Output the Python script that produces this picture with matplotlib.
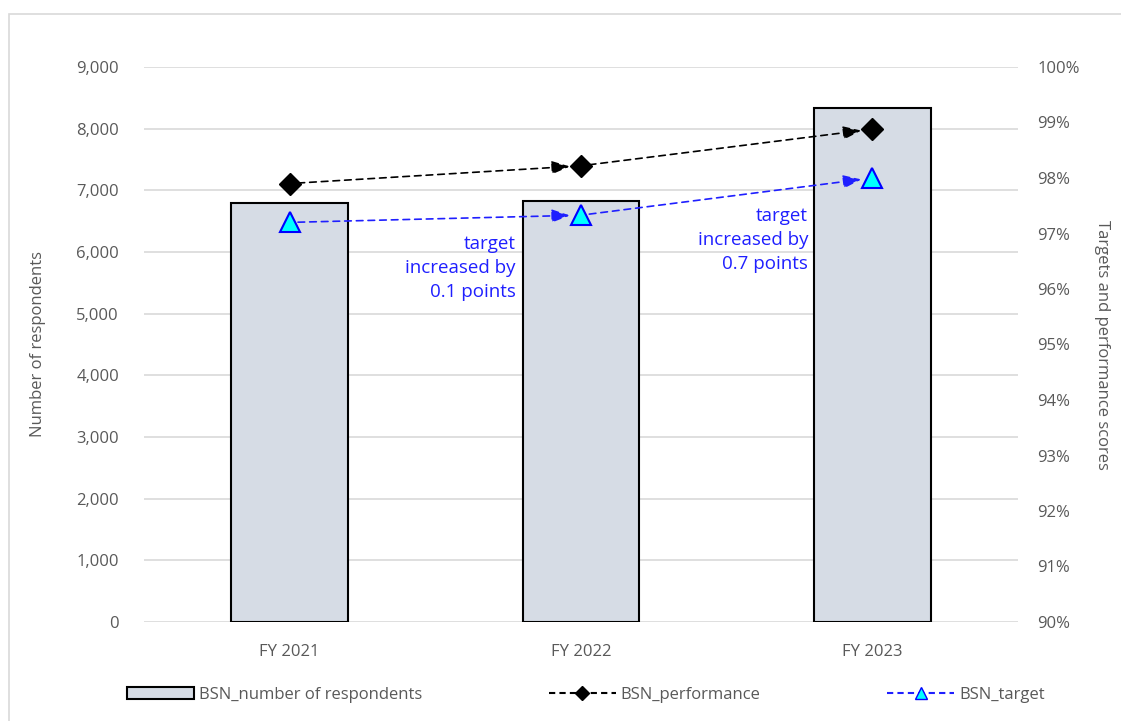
import matplotlib.pyplot as plt
from matplotlib.patches import Rectangle
from matplotlib.lines import Line2D
from matplotlib.ticker import FuncFormatter

years = ['FY 2021', 'FY 2022', 'FY 2023']
respondents = [6800, 6830, 8330]
performance = [97.9, 98.22, 98.88]
target = [97.2, 97.33, 98.0]
notes = ['target\nincreased by\n0.1 points', 'target\nincreased by\n0.7 points']

plt.rcParams['font.family'] = ['Open Sans', 'DejaVu Sans']
gray = '#595959'

W, H = 1121, 721
fig = plt.figure(figsize=(W / 100, H / 100), dpi=100)
ax = fig.add_axes([144 / W, 1 - 622 / H, (1018 - 144) / W, (622 - 67) / H])
ax2 = ax.twinx()

# chart border
fig.patches.append(Rectangle((9 / W, -0.01), 1.0, 1 - 14 / H + 0.01, transform=fig.transFigure,
                             fill=False, edgecolor='#D9D9D9', linewidth=1.2))

x = list(range(len(years)))
ax.bar(x, respondents, width=0.4, color='#D6DCE5', edgecolor='black', linewidth=1.5, zorder=2)
ax.set_ylim(0, 9000)
ax.set_xlim(-0.5, 2.5)
ax.set_yticks(range(0, 9001, 1000))
ax.yaxis.set_major_formatter(FuncFormatter(lambda v, p: f'{int(v):,}'))
ax.grid(axis='y', color='#D9D9D9', linewidth=1.2, zorder=0)
ax.set_axisbelow(True)
ax.set_xticks(x)
ax.set_xticklabels(years)
ax.set_ylabel('Number of respondents', fontsize=12, color=gray, labelpad=22)

ax2.set_ylim(90, 100)
ax2.set_yticks(range(90, 101))
ax2.yaxis.set_major_formatter(FuncFormatter(lambda v, p: f'{int(v)}%'))
ax2.set_ylabel('Targets and performance scores', fontsize=12, color=gray, rotation=270, labelpad=22)

for a in (ax, ax2):
    for s in a.spines.values():
        s.set_visible(False)
    a.tick_params(length=0, labelsize=12, labelcolor=gray)
ax.tick_params(axis='y', pad=18)
ax.tick_params(axis='x', pad=16)
ax2.tick_params(axis='y', pad=14)

# dashed lines with arrow heads between consecutive points
for vals, col in ((performance, 'black'), (target, '#1F1FFF')):
    for i in range(len(vals) - 1):
        ax2.annotate('', xy=(x[i + 1], vals[i + 1]), xytext=(x[i], vals[i]),
                     arrowprops=dict(arrowstyle='-|>,head_length=1.1,head_width=0.4', color=col,
                                     linestyle=(0, (4, 3)), linewidth=1.2,
                                     shrinkA=6, shrinkB=8), zorder=3)

ax2.plot(x, performance, linestyle='none', marker='D', markersize=11, color='black', zorder=4)
ax2.plot(x, target, linestyle='none', marker='^', markersize=15, markerfacecolor='#00FFFF',
         markeredgecolor='#0000FF', markeredgewidth=1.5, zorder=4)

ax2.text(0.775, 96.38, notes[0], ha='right', va='center', color='#1F1FFF',
         fontsize=13.5, linespacing=1.45)
ax2.text(1.78, 96.88, notes[1], ha='right', va='center', color='#1F1FFF',
         fontsize=13.5, linespacing=1.45)

handles = [
    Rectangle((0, 0), 1, 1, facecolor='#D6DCE5', edgecolor='black', linewidth=1.5),
    Line2D([], [], color='black', linestyle=(0, (3, 2)), marker='D', markersize=7),
    Line2D([], [], color='#1F1FFF', linestyle=(0, (3, 2)), marker='^', markersize=8,
           markerfacecolor='#00FFFF', markeredgecolor='#0000FF'),
]
labels = ['BSN_number of respondents', 'BSN_performance', 'BSN_target']
fig.legend(handles, labels, loc='center', bbox_to_anchor=(586 / W, 1 - 695 / H), ncol=3,
           frameon=False, fontsize=12, labelcolor=gray, columnspacing=7.6, handlelength=4.0,
           handletextpad=0.3)

fig.savefig('out.png', dpi=100)
